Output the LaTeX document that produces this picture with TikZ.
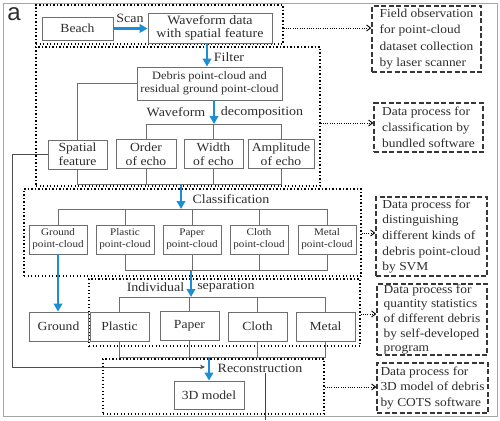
\documentclass[tikz,border=0pt]{standalone}
\usepackage{fontspec}
\setmainfont{Liberation Serif}[FakeStretch=1.1]
\newfontfamily\labelsans{Liberation Sans}
\usetikzlibrary{arrows.meta}
\definecolor{myblue}{RGB}{27,142,214}
\definecolor{boxgray}{RGB}{110,110,110}
\definecolor{notegray}{RGB}{55,55,55}
\definecolor{framegray}{RGB}{165,165,165}
\definecolor{txt}{RGB}{45,45,45}
\begin{document}
\begin{tikzpicture}[x=1pt,y=-1pt,
  box/.style={draw=boxgray, line width=0.8pt, inner sep=0pt, align=center, text=txt, font=\fontsize{12.4}{13.6}\selectfont},
  pcbox/.style={box, minimum width=58pt, minimum height=29pt, font=\fontsize{10.1}{12}\selectfont},
  sepbox/.style={box, minimum width=59pt, minimum height=29pt},
  group/.style={draw=black, line width=1.1pt, dash pattern=on 1.1pt off 2.4pt, inner sep=0pt},
  note/.style={draw=notegray, line width=1.4pt, dash pattern=on 5pt off 2.5pt, inner sep=0pt, align=left, text=txt, font=\fontsize{12.2}{16.2}\selectfont},
  link/.style={draw=boxgray, line width=0.8pt},
  flow/.style={draw=myblue, line width=2.4pt, -{Triangle[width=8.5pt,length=8pt]}},
  dotarrow/.style={draw=black, line width=0.9pt, dash pattern=on 0.9pt off 1.4pt, -{Straight Barb[length=4pt,width=6pt]}},
  lbl/.style={inner sep=0pt, text=txt, font=\fontsize{12.7}{14}\selectfont}
]
\useasboundingbox (0,0) rectangle (500,420);
\draw[framegray, line width=0.8pt] (3,3) rectangle (497,416);

\node[inner sep=0pt, text=txt, font=\labelsans\fontsize{24}{24}\selectfont] (lab) at (14,14) {a};

% group boxes
\node[group, minimum width=247pt, minimum height=39pt] (g1) at (159.5,24.5) {};
\node[group, minimum width=284pt, minimum height=139pt] (g2) at (178,116.5) {};
\node[group, minimum width=337pt, minimum height=87pt] (g3) at (192.5,232.5) {};
\node[group, minimum width=271pt, minimum height=67pt] (g4) at (224.5,312.5) {};
\node[group, minimum width=221pt, minimum height=55pt] (g5) at (213.5,386.5) {};

% nodes
\node[box, minimum width=71pt, minimum height=23pt] (beach) at (77.5,28.5) {Beach};
\node[box, minimum width=124pt, minimum height=30pt, font=\fontsize{12.7}{12.6}\selectfont] (wave) at (210,28) {Waveform data\\with spatial feature};
\node[box, minimum width=145pt, minimum height=33pt, font=\fontsize{11.3}{13}\selectfont] (debris) at (209.5,83.5) {Debris point-cloud and\\residual ground point-cloud};
\node[box, minimum width=59pt, minimum height=29pt] (spatial) at (77.5,154.5) {Spatial\\feature};
\node[box, minimum width=60pt, minimum height=29pt] (order) at (146,154) {Order\\of echo};
\node[box, minimum width=59pt, minimum height=29pt] (width) at (213.5,154) {Width\\of echo};
\node[box, minimum width=66pt, minimum height=29pt] (amp) at (281,154) {Amplitude\\of echo};

\node[pcbox] (gpc) at (58,239.5) {Ground\\point-cloud};
\node[pcbox] (ppc) at (125,239.5) {Plastic\\point-cloud};
\node[pcbox] (apc) at (192,239.5) {Paper\\point-cloud};
\node[pcbox] (cpc) at (259,239.5) {Cloth\\point-cloud};
\node[pcbox] (mpc) at (327,239.5) {Metal\\point-cloud};

\node[sepbox] (ground) at (58.5,326.5) {Ground};
\node[sepbox] (plastic) at (119.5,326.5) {Plastic};
\node[sepbox] (paper) at (189.5,326) {Paper};
\node[sepbox] (cloth) at (257.5,326.5) {Cloth};
\node[sepbox] (metal) at (325.5,326.5) {Metal};

\node[box, minimum width=70pt, minimum height=28pt] (model) at (209,395) {3D model};

% notes
\node[note, minimum width=109pt, minimum height=66pt] (n1) at (426.5,39) {Field observation\\for point-cloud\\dataset collection\\by laser scanner};
\node[note, minimum width=109pt, minimum height=49pt] (n2) at (428.5,127.5) {Data process for\\classification by\\bundled software};
\node[note, minimum width=111pt, minimum height=79pt, font=\fontsize{12.2}{15.6}\selectfont] (n3) at (431.5,236.5) {Data process for\\distinguishing\\different kinds of\\debris point-cloud\\by SVM};
\node[note, minimum width=110pt, minimum height=71pt, font=\fontsize{12.2}{14.6}\selectfont] (n4) at (432,319.5) {Data process for\\quantity statistics\\of different debris\\by self-developed\\program};
\node[note, minimum width=111pt, minimum height=50pt, font=\fontsize{12.2}{15.6}\selectfont] (n5) at (432.5,388) {Data process for\\3D model of debris\\by COTS software};

% labels
\node[lbl] (scan) at (130,18) {Scan};
\node[lbl] (filter) at (229,57) {Filter};
\node[lbl] (wf) at (176,112) {Waveform};
\node[lbl] (dec) at (262,112) {decomposition};
\node[lbl] (cls) at (231,199) {Classification};
\node[lbl] (ind) at (155.5,287) {Individual};
\node[lbl] (sep) at (226,287) {separation};
\node[lbl] (rec) at (260,368) {Reconstruction};

% coordinates
\coordinate (t1) at (214,124);
\coordinate (b2) at (181,184);
\coordinate (c2) at (181,209);
\coordinate (b3) at (191,270);
\coordinate (s3) at (191,297);
\coordinate (b4) at (208,357);
\coordinate (k1) at (12,367);
\coordinate (k2) at (205,367);
\coordinate (m1) at (265,373);
\coordinate (m2) at (265,420);

% blue flows
\draw[flow] (beach.east) -- (beach.east -| wave.west);
\draw[flow] (wave.south -| 207,0) -- (debris.north -| 207,0);
\draw[flow] (debris.south -| t1) -- (t1);
\draw[flow] (b2) -- (c2);
\draw[flow] (b3) -- (s3);
\draw[flow] (gpc.south) -- (gpc.south |- ground.north);
\draw[flow] (model.north |- b4) -- (model.north);

% tree links
\draw[link] (debris.west) -| (spatial.north);
\draw[link] (order.north) -- (order.north |- t1) -- (amp.north |- t1) -- (amp.north);
\draw[link] (width.north) -- (width.north |- t1);
\draw[link] (spatial.south) -- (spatial.south |- b2) -- (amp.south |- b2) -- (amp.south);
\draw[link] (order.south) -- (order.south |- b2);
\draw[link] (width.south) -- (width.south |- b2);

\draw[link] (gpc.north) -- (gpc.north |- c2) -- (mpc.north |- c2) -- (mpc.north);
\draw[link] (ppc.north) -- (ppc.north |- c2);
\draw[link] (apc.north) -- (apc.north |- c2);
\draw[link] (cpc.north) -- (cpc.north |- c2);
\draw[link] (ppc.south) -- (ppc.south |- b3) -- (mpc.south |- b3) -- (mpc.south);
\draw[link] (apc.south) -- (apc.south |- b3);
\draw[link] (cpc.south) -- (cpc.south |- b3);

\draw[link] (plastic.north) -- (plastic.north |- s3) -- (metal.north |- s3) -- (metal.north);
\draw[link] (paper.north) -- (paper.north |- s3);
\draw[link] (cloth.north) -- (cloth.north |- s3);
\draw[link] (plastic.south) -- (plastic.south |- b4) -- (metal.south |- b4) -- (metal.south);
\draw[link] (paper.south) -- (paper.south |- b4);
\draw[link] (cloth.south) -- (cloth.south |- b4);

\draw[boxgray!70!black, line width=0.8pt, -{Stealth[length=5pt,width=4.5pt]}] (spatial.west) -| (k1) -- (k2);
\draw[black!75, line width=0.9pt] (m1) -- (m2);

% dotted arrows to notes
\draw[dotarrow] (g1.east |- 0,28) -- (n1.west |- 0,28);
\draw[dotarrow] (g2.east |- 0,123) -- (n2.west |- 0,123);
\draw[dotarrow] (g3.east |- 0,233) -- (n3.west |- 0,233);
\draw[dotarrow] (g4.east |- 0,314) -- (n4.west |- 0,314);
\draw[dotarrow] (g5.east |- 0,387) -- (n5.west |- 0,387);
\end{tikzpicture}
\end{document}
